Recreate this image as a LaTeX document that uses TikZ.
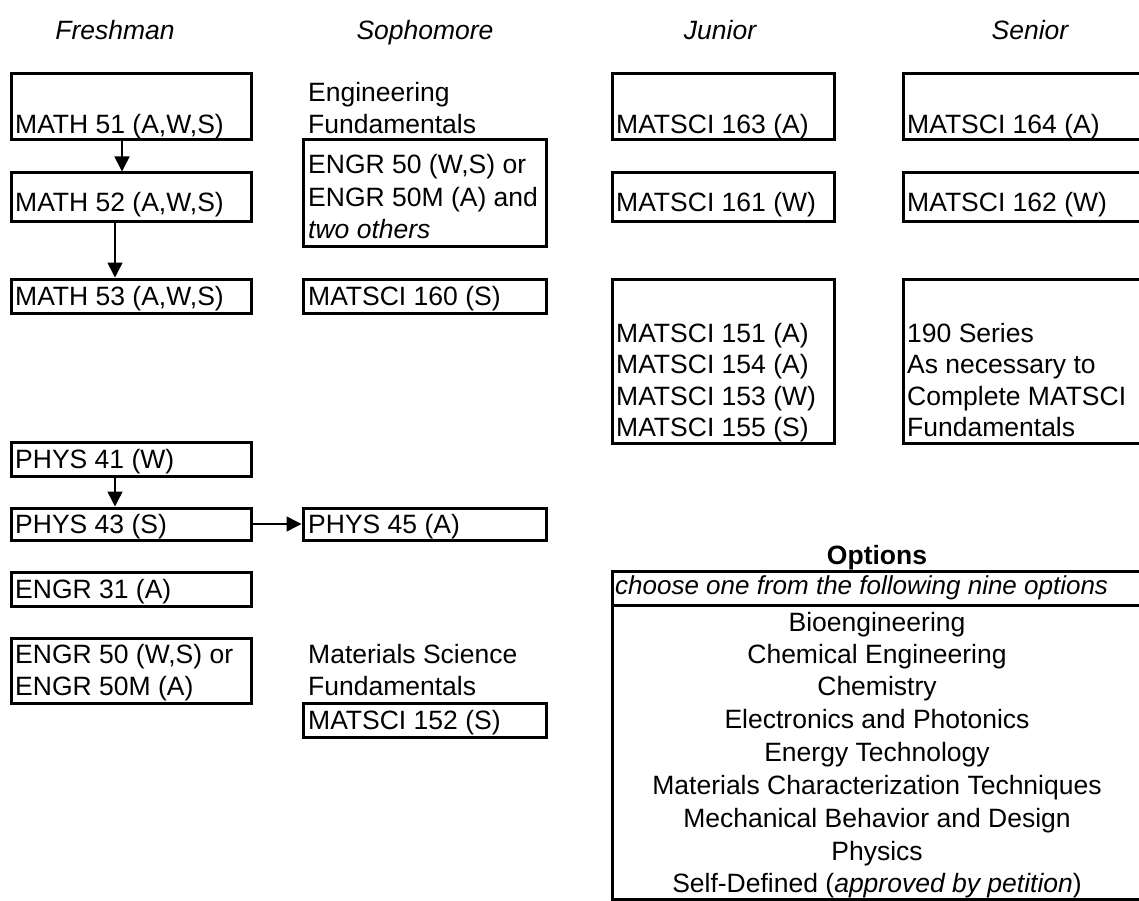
\documentclass[tikz,border=0pt]{standalone}
\usepackage{fontspec}
\setmainfont{Liberation Sans}
\usetikzlibrary{fit,arrows.meta}
\begin{document}
\begin{tikzpicture}[x=1pt,y=-1pt,
  box/.style={draw, line width=3pt, inner sep=0pt},
  txt/.style={inner sep=0pt, anchor=base west, font=\fontsize{26.5}{33}\selectfont},
  itxt/.style={txt, font=\fontsize{26.5}{33}\selectfont\itshape},
  ctr/.style={inner sep=0pt, anchor=base, font=\fontsize{26.5}{33}\selectfont},
  hdr/.style={inner sep=0pt, anchor=base, font=\fontsize{26.5}{33}\selectfont\itshape},
  arr/.style={line width=1.5pt, -{Triangle[length=15pt,width=15pt]}}]
\useasboundingbox (0,0) rectangle (1139,901);
% headers
\node[hdr] (hF) at (115,40) {Freshman};
\node[hdr] (hS) at (425,40) {Sophomore};
\node[hdr] (hJ) at (720,40) {Junior};
\node[hdr] (hR) at (1030,40) {Senior};
% Freshman
\node[box, fit={(11,74) (251,140)}] (m51) {};
\node[txt] (t51) at (15,134) {MATH 51 (A,W,S)};
\node[box, fit={(11,173) (251,222)}] (m52) {};
\node[txt] (t52) at (15,212) {MATH 52 (A,W,S)};
\node[box, fit={(11,279) (251,313)}] (m53) {};
\node[txt] (t53) at (15,305) {MATH 53 (A,W,S)};
\node[box, fit={(11,442) (251,476)}] (p41) {};
\node[txt] (tp41) at (15,468) {PHYS 41 (W)};
\node[box, fit={(11,508) (251,540)}] (p43) {};
\node[txt] (tp43) at (15,533) {PHYS 43 (S)};
\node[box, fit={(11,572) (251,606)}] (e31) {};
\node[txt] (te31) at (15,598) {ENGR 31 (A)};
\node[box, fit={(11,638) (251,703)}] (e50) {};
\node[txt] (te50a) at (15,663) {ENGR 50 (W,S) or};
\node[txt] (te50b) at (15,695) {ENGR 50M (A)};
% Sophomore
\node[txt] (tef1) at (308,102) {Engineering};
\node[txt] (tef2) at (308,134) {Fundamentals};
\node[box, fit={(303,140) (546,246)}] (e50s) {};
\node[txt] (tes1) at (308,174) {ENGR 50 (W,S) or};
\node[txt] (tes2) at (308,207) {ENGR 50M (A) and};
\node[itxt] (tes3) at (308,239) {two others};
\node[box, fit={(303,279) (546,313)}] (ms160) {};
\node[txt] (t160) at (308,305) {MATSCI 160 (S)};
\node[box, fit={(303,508) (546,540)}] (p45) {};
\node[txt] (tp45) at (308,533) {PHYS 45 (A)};
\node[txt] (tmf1) at (308,663) {Materials Science};
\node[txt] (tmf2) at (308,695) {Fundamentals};
\node[box, fit={(303,703) (546,737)}] (ms152) {};
\node[txt] (t152) at (308,729) {MATSCI 152 (S)};
% Junior
\node[box, fit={(612,74) (834,140)}] (ms163) {};
\node[txt] (t163) at (616,134) {MATSCI 163 (A)};
\node[box, fit={(612,173) (834,222)}] (ms161) {};
\node[txt] (t161) at (616,212) {MATSCI 161 (W)};
\node[box, fit={(612,279) (834,443)}] (ms151) {};
\node[txt] (t151) at (616,342) {MATSCI 151 (A)};
\node[txt] (t154) at (616,373) {MATSCI 154 (A)};
\node[txt] (t153) at (616,405) {MATSCI 153 (W)};
\node[txt] (t155) at (616,436) {MATSCI 155 (S)};
% Senior
\node[box, fit={(903,74) (1150,140)}] (ms164) {};
\node[txt] (t164) at (907,134) {MATSCI 164 (A)};
\node[box, fit={(903,173) (1150,222)}] (ms162) {};
\node[txt] (t162) at (907,212) {MATSCI 162 (W)};
\node[box, fit={(903,279) (1150,443)}] (s190) {};
\node[txt] (t190a) at (907,342) {190 Series};
\node[txt] (t190b) at (907,373) {As necessary to};
\node[txt] (t190c) at (907,405) {Complete MATSCI};
\node[txt] (t190d) at (907,436) {Fundamentals};
% Options
\node[ctr, font=\fontsize{26.5}{33}\selectfont\bfseries] (opth) at (877,564) {Options};
\node[box, fit={(612,571) (1142,899)}] (optbox) {};
\coordinate (sepL) at (612,605);
\coordinate (sepR) at (1142,605);
\draw[line width=3pt] (sepL) -- (sepR);
\node[itxt, font=\fontsize{26}{33}\selectfont\itshape] (choose) at (615,594) {choose one from the following nine options};
\node[ctr] (o1) at (877,631) {Bioengineering};
\node[ctr] (o2) at (877,663) {Chemical Engineering};
\node[ctr] (o3) at (877,695) {Chemistry};
\node[ctr] (o4) at (877,728) {Electronics and Photonics};
\node[ctr] (o5) at (877,761) {Energy Technology};
\node[ctr] (o6) at (877,794) {Materials Characterization Techniques};
\node[ctr] (o7) at (877,827) {Mechanical Behavior and Design};
\node[ctr] (o8) at (877,860) {Physics};
\node[ctr] (o9) at (877,892) {Self-Defined (\textit{approved by petition})};
% arrows
\draw[arr] ([xshift=-9pt]m51.south) -- ([xshift=-9pt]m52.north);
\draw[arr] ([xshift=-16pt]m52.south) -- ([xshift=-16pt]m53.north);
\draw[arr] ([xshift=-16pt]p41.south) -- ([xshift=-16pt]p43.north);
\draw[arr] (p43.east) -- (p45.west);
\end{tikzpicture}
\end{document}
